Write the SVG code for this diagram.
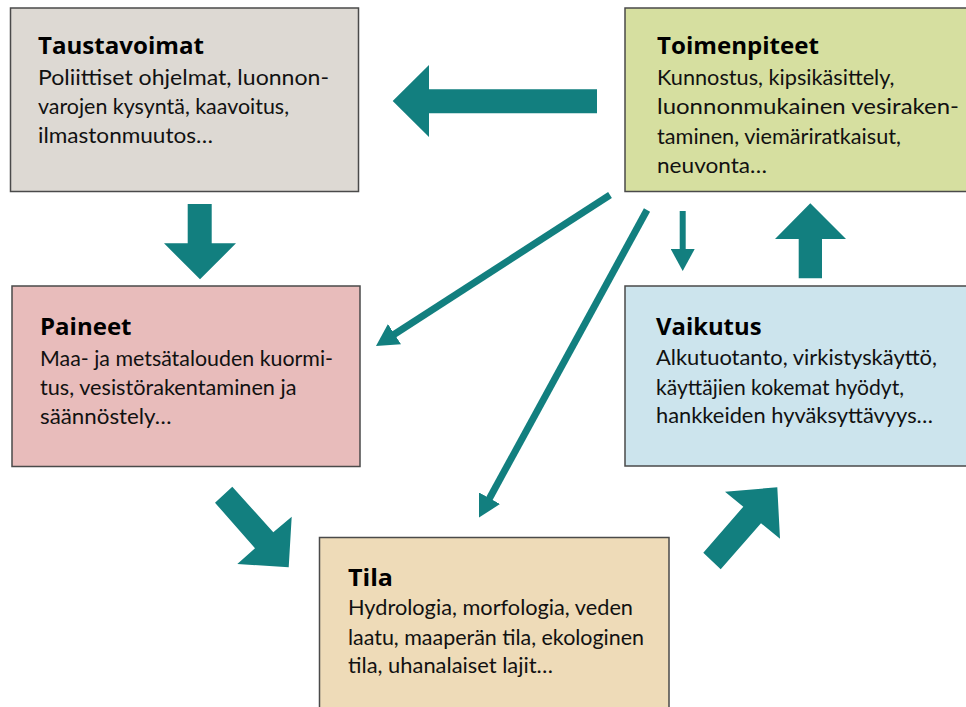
<svg xmlns="http://www.w3.org/2000/svg" width="966" height="707" viewBox="0 0 966 707">
<style>
.box{stroke:#4a4a4a;stroke-width:1.5}
.t{font-family:"Open Sans","Liberation Sans",sans-serif;font-weight:bold;font-size:24px;fill:#000}
.b{font-family:Lato,"Liberation Sans",sans-serif;font-size:22px;fill:#111}
.fat{fill:#127f7f}
.thin{stroke:#127f7f;fill:none}
</style>
<defs>
<marker id="ah" viewBox="0 0 22 24" refX="2" refY="12" markerWidth="22" markerHeight="24" markerUnits="userSpaceOnUse" orient="auto">
<path d="M0,0 L22,12 L0,24 z" fill="#127f7f"/>
</marker>
</defs>
<rect width="966" height="707" fill="#fff"/>
<g id="taustavoimat">
<rect class="box" x="10.5" y="8" width="348" height="183.5" fill="#ddd9d3"/>
<text class="t" x="38" y="54" textLength="166" lengthAdjust="spacingAndGlyphs">Taustavoimat</text>
<text class="b" x="38" y="85" textLength="291" lengthAdjust="spacingAndGlyphs">Poliittiset ohjelmat, luonnon-</text>
<text class="b" x="38" y="114" textLength="251" lengthAdjust="spacingAndGlyphs">varojen kysyntä, kaavoitus,</text>
<text class="b" x="38" y="143" textLength="175" lengthAdjust="spacingAndGlyphs">ilmastonmuutos…</text>
</g>
<g id="toimenpiteet">
<rect class="box" x="625" y="8" width="345" height="183.5" fill="#d6dfa0"/>
<text class="t" x="657" y="54" textLength="162" lengthAdjust="spacingAndGlyphs">Toimenpiteet</text>
<text class="b" x="657" y="85" textLength="237.5" lengthAdjust="spacingAndGlyphs">Kunnostus, kipsikäsittely,</text>
<text class="b" x="657" y="114" textLength="302" lengthAdjust="spacingAndGlyphs">luonnonmukainen vesiraken-</text>
<text class="b" x="657" y="144" textLength="244" lengthAdjust="spacingAndGlyphs">taminen, viemäriratkaisut,</text>
<text class="b" x="657" y="173" textLength="110" lengthAdjust="spacingAndGlyphs">neuvonta…</text>
</g>
<g id="paineet">
<rect class="box" x="12" y="286" width="348" height="180.5" fill="#e8bcbb"/>
<text class="t" x="40" y="335" textLength="91.5" lengthAdjust="spacingAndGlyphs">Paineet</text>
<text class="b" x="40" y="365.5" textLength="293" lengthAdjust="spacingAndGlyphs">Maa- ja metsätalouden kuormi-</text>
<text class="b" x="40" y="395" textLength="256.5" lengthAdjust="spacingAndGlyphs">tus, vesistörakentaminen ja</text>
<text class="b" x="40" y="423.5" textLength="131.5" lengthAdjust="spacingAndGlyphs">säännöstely…</text>
</g>
<g id="vaikutus">
<rect class="box" x="625" y="286" width="345" height="180" fill="#cce4ed"/>
<text class="t" x="656" y="335" textLength="105.5" lengthAdjust="spacingAndGlyphs">Vaikutus</text>
<text class="b" x="656" y="365" textLength="281" lengthAdjust="spacingAndGlyphs">Alkutuotanto, virkistyskäyttö,</text>
<text class="b" x="656" y="394.5" textLength="248" lengthAdjust="spacingAndGlyphs">käyttäjien kokemat hyödyt,</text>
<text class="b" x="656" y="423" textLength="277" lengthAdjust="spacingAndGlyphs">hankkeiden hyväksyttävyys…</text>
</g>
<g id="tila">
<rect class="box" x="319.5" y="537.5" width="349.5" height="175" fill="#eedbb8"/>
<text class="t" x="348" y="586" textLength="45" lengthAdjust="spacingAndGlyphs">Tila</text>
<text class="b" x="348" y="615" textLength="285" lengthAdjust="spacingAndGlyphs">Hydrologia, morfologia, veden</text>
<text class="b" x="348" y="644.5" textLength="296" lengthAdjust="spacingAndGlyphs">laatu, maaperän tila, ekologinen</text>
<text class="b" x="348" y="673" textLength="205" lengthAdjust="spacingAndGlyphs">tila, uhanalaiset lajit…</text>
</g>
<g id="connectors">
<polygon class="fat" points="597,89.3 429,89.3 429,65 392.7,101 429,137 429,113.3 597,113.3"/>
<polygon class="fat" points="187.7,204 211.7,204 211.7,243.3 236,243.3 200,279.3 164,243.3 187.7,243.3"/>
<polygon class="fat" points="798.7,278.3 822,278.3 822,239 846,239 810.3,203.3 775,239 798.7,239"/>
<polygon class="fat" points="215,502.7 232.3,486.7 273.3,532.3 291.7,516.7 288.7,567.3 237.3,564 255,548.3"/>
<polygon class="fat" points="703.3,552.7 720.7,569.3 761,523.3 780,538.7 777.3,487.3 725,491.7 743.3,506.7"/>
<line class="thin" x1="610" y1="195" x2="392.8" y2="335.2" stroke-width="7" marker-end="url(#ah)"/>
<line class="thin" x1="647" y1="210" x2="488.6" y2="500" stroke-width="7" marker-end="url(#ah)"/>
<line class="thin" x1="682.7" y1="211" x2="682.7" y2="251" stroke-width="6" marker-end="url(#ah)"/>
</g>
</svg>
